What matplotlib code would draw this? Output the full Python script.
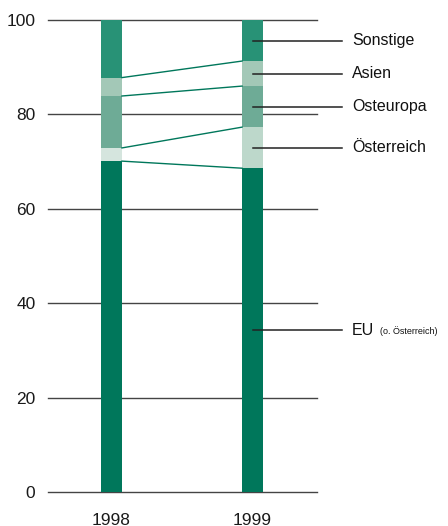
import matplotlib
matplotlib.use("Agg")
import matplotlib.pyplot as plt

years = ["1998", "1999"]
segments = ["EU", "Österreich", "Osteuropa", "Asien", "Sonstige"]
eu = [70.1, 68.6]
oesterreich = [2.8, 8.7]
osteuropa = [11.0, 8.7]
asien = [3.9, 5.3]
sonstige = [12.2, 8.7]
series = [eu, oesterreich, osteuropa, asien, sonstige]
label_texts = ["EU", "Österreich", "Osteuropa", "Asien", "Sonstige"]
yticks = [0, 20, 40, 60, 80, 100]

colors = {
    "EU": ["#00775b", "#00775b"],
    "Österreich": ["#d5e5de", "#bdd8cb"],
    "Osteuropa": ["#6eab96", "#6eab96"],
    "Asien": ["#a3c8b7", "#a3c8b7"],
    "Sonstige": ["#289276", "#289276"],
}

main_font = "Liberation Sans"

fig = plt.figure(figsize=(4.48, 5.26), dpi=100)
ax = fig.add_axes([48 / 448, 34 / 526, 269 / 448, 472 / 526])

x = [0, 1]
width = 0.149
bottoms = [0.0, 0.0]
tops = []
for name, vals in zip(segments, series):
    ax.bar(x, vals, width=width, bottom=bottoms, color=colors[name], zorder=2, linewidth=0)
    bottoms = [b + v for b, v in zip(bottoms, vals)]
    tops.append(list(bottoms))

for t in tops[:-1]:
    ax.plot([x[0] + width / 2, x[1] - width / 2], [t[0], t[1]], color="#00775b", lw=1.0, zorder=3)

ax.set_xlim(-0.45, 1.457)
ax.set_ylim(0, 100)
ax.set_yticks(yticks)
ax.set_yticklabels([str(v) for v in yticks], fontsize=12.5, family=main_font, color="#1a1a1a")
for v in yticks:
    ax.axhline(v, color="#444444", lw=1.0, zorder=1, clip_on=False)
ax.set_xticks(x)
ax.set_xticklabels(years, fontsize=12.5, family=main_font, color="#1a1a1a")
ax.tick_params(axis="both", length=0)
ax.tick_params(axis="y", pad=9)
ax.tick_params(axis="x", pad=15)
for s in ax.spines.values():
    s.set_visible(False)

prev = 0.0
for name, t in zip(label_texts, tops):
    mid = (prev + t[1]) / 2
    prev = t[1]
    ax.plot([x[1], 1.635], [mid, mid], color="#222222", lw=1.1, zorder=4, clip_on=False)
    txt = ax.text(1.706, mid, name, fontsize=11.5, family=main_font, va="center", ha="left",
                  color="#111111", clip_on=False)
    if name == "EU":
        ax.annotate("(o. Österreich)", xy=(1, 0.5), xycoords=txt, xytext=(4, -1),
                    textcoords="offset points", fontsize=6.5, family=main_font,
                    va="center", ha="left", color="#111111")

fig.savefig("out.png", dpi=100)
